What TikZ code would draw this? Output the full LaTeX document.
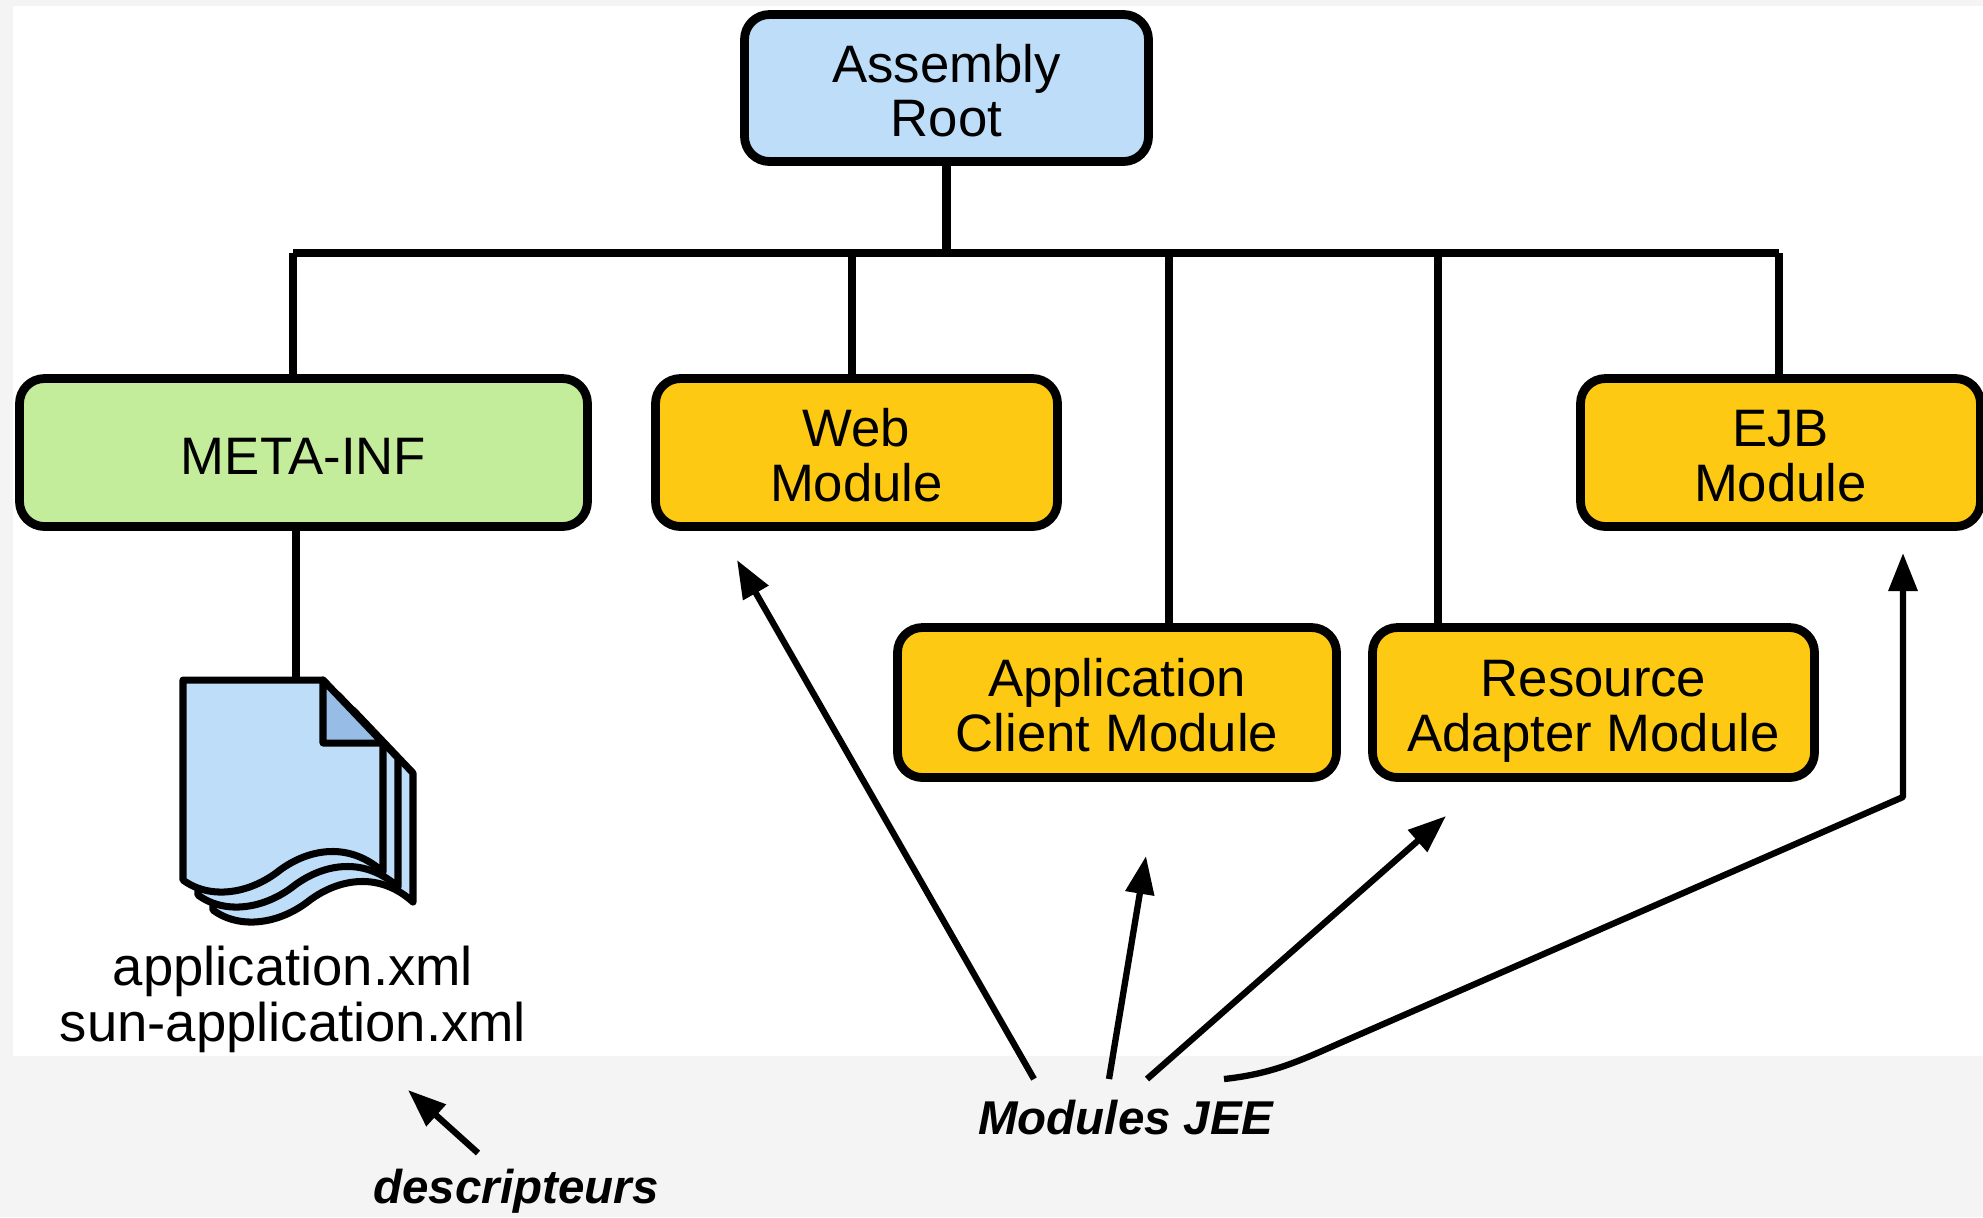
\documentclass[tikz,border=0pt]{standalone}
\usepackage{fontspec}
\setmainfont{Liberation Sans}
\usetikzlibrary{arrows.meta}
\definecolor{skyblue}{RGB}{190, 221, 249}
\definecolor{foldblue}{RGB}{151, 189, 230}
\definecolor{leafgreen}{RGB}{195, 236, 155}
\definecolor{sunflower}{RGB}{253, 201, 18}
\definecolor{paper}{RGB}{244, 244, 244}
\newcommand\tallstrut{\rule{0pt}{0.58cm}}
\newcommand\deepstrut{\rule[-0.15cm]{0pt}{0.15cm}}

\tikzset{
  module/.style={draw=black, line width=2.5pt, rounded corners=0.25cm, align=center,
                 inner sep=0pt, font=\fontsize{15}{15.6}\selectfont},
  link/.style={line width=2.4pt},
  pointer/.style={line width=1.8pt, -{Triangle[length=0.38cm, width=0.28cm]}},
  caption/.style={font=\fontsize{13.5}{16}\selectfont\bfseries\itshape},
  sheet/.style={draw=black, fill=skyblue, line width=2pt, line join=round},
}

\begin{document}
\begin{tikzpicture}
            % page and white panel
            \useasboundingbox (0,0) rectangle (19.83,-12.17);
            \fill[paper] (0,0) rectangle (19.83,-12.17);
            \fill[white] (0.13,-0.06) rectangle (19.83,-10.56);

            % tree
            \node[module, fill=skyblue,   minimum width=4.04cm, minimum height=1.47cm] (root) at ( 9.465,-0.880) {\tallstrut Assembly\\Root\deepstrut};
            \node[module, fill=leafgreen, minimum width=5.68cm, minimum height=1.48cm] (meta) at ( 3.035,-4.525) {\tallstrut META-INF\deepstrut};
            \node[module, fill=sunflower, minimum width=4.02cm, minimum height=1.48cm] (web)  at ( 8.565,-4.525) {\tallstrut Web\\Module\deepstrut};
            \node[module, fill=sunflower, minimum width=4.00cm, minimum height=1.48cm] (ejb)  at (17.805,-4.525) {\tallstrut EJB\\Module\deepstrut};
            \node[module, fill=sunflower, minimum width=4.39cm, minimum height=1.50cm] (app)  at (11.170,-7.025) {\tallstrut Application\\Client Module\deepstrut};
            \node[module, fill=sunflower, minimum width=4.42cm, minimum height=1.50cm] (res)  at (15.935,-7.025) {\tallstrut Resource\\Adapter Module\deepstrut};

            \coordinate (busMeta) at ( 2.93,-2.53);
            \coordinate (busWeb)  at ( 8.52,-2.53);
            \coordinate (busApp)  at (11.69,-2.53);
            \coordinate (busRes)  at (14.38,-2.53);
            \coordinate (busEjb)  at (17.79,-2.53);
            \draw[link] (busMeta) -- (busEjb);
            \draw[link] (root.south) -- (root.south |- busMeta);
            \draw[link] (busMeta) -- (busMeta |- meta.north);
            \draw[link] (busWeb)  -- (busWeb |- web.north);
            \draw[link] (busApp)  -- (busApp |- app.north);
            \draw[link] (busRes)  -- (busRes |- res.north);
            \draw[link] (busEjb)  -- (busEjb |- ejb.north);

            % descriptor file
            \coordinate (doc) at (2.96,-6.80);
            \draw[link] (doc |- meta.south) -- (doc);
            \begin{scope}[shift={(1.83,-6.80)}]
                \foreach \d in {0.30, 0.15, 0.00}
                    \filldraw[sheet, shift={(\d,-\d)}] (0,0) -- (1.40,0) -- (2.00,-0.63) -- (2.00,-1.92)
                        .. controls (1.67,-1.62) and (1.27,-1.68) .. (0.97,-1.90)
                        .. controls (0.67,-2.14) and (0.27,-2.20) .. (0,-2.00) -- cycle;
                \filldraw[sheet, fill=foldblue] (1.40,0) -- (1.40,-0.63) -- (2.00,-0.63) -- cycle;
            \end{scope}
            \node[align=center, font=\fontsize{15.5}{15.9}\selectfont] (files) at (2.93,-9.99) {application.xml\\sun-application.xml};

            % annotations
            \node[caption] (jee)  at (11.26,-11.18) {Modules JEE};
            \node[caption] (desc) at ( 5.16,-11.91) {descripteurs};

            \coordinate (fromDesc) at ( 4.78,-11.53);
            \coordinate (toDesc)   at ( 4.08,-10.90);
            \draw[pointer] (fromDesc) -- (toDesc);

            \coordinate (fromWeb) at (10.34,-10.79);
            \coordinate (fromApp) at (11.09,-10.79);
            \coordinate (fromRes) at (11.47,-10.79);
            \coordinate (fromEjb) at (12.24,-10.79);
            \coordinate (toWeb)   at ( 7.37,-5.60);
            \coordinate (toApp)   at (11.46,-8.56);
            \coordinate (toRes)   at (14.46,-8.16);
            \coordinate (toEjb)   at (19.03,-5.53);
            \draw[pointer] (fromWeb) -- (toWeb);
            \draw[pointer] (fromApp) -- (toApp);
            \draw[pointer] (fromRes) -- (toRes);
            \draw[pointer, line join=round] (fromEjb) .. controls (12.70,-10.74) and (12.95,-10.63) .. (13.40,-10.43)
                -- (19.03,-7.97) -- (toEjb);
        \end{tikzpicture}
\end{document}
